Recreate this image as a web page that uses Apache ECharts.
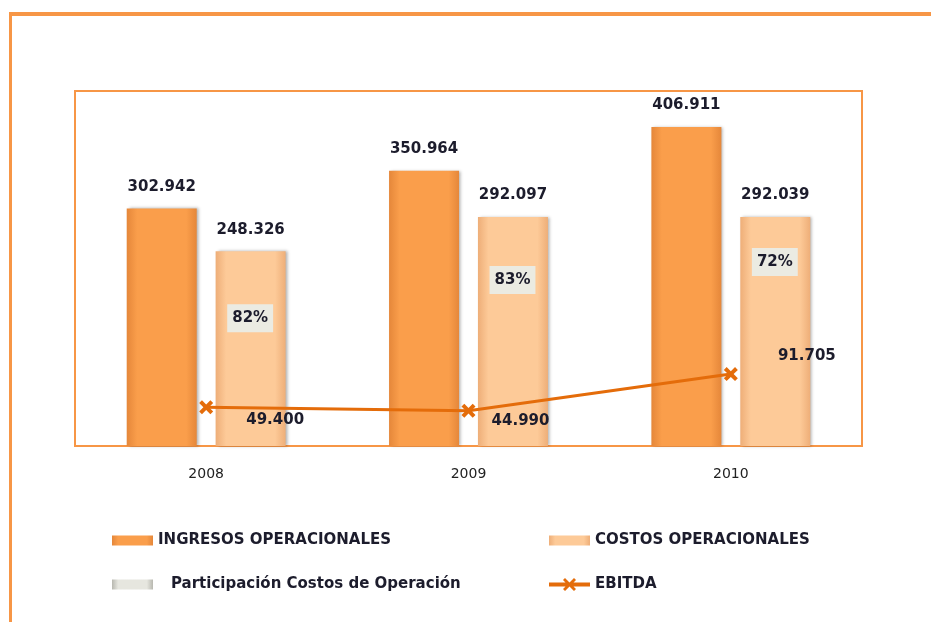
<!DOCTYPE html>
<html>
<head>
<meta charset="utf-8">
<script src="https://cdn.jsdelivr.net/npm/echarts@6/dist/echarts.min.js"></script>
<style>
  html, body { margin: 0; padding: 0; background: #fff; }
  #chart { width: 931px; height: 622px; }
</style>
</head>
<body>
<div id="chart"></div>
<script>
const years = ['2008', '2009', '2010']
const ingresos = [302942, 350964, 406911]
const costos = [248326, 292097, 292039]
const participacion = [82, 83, 72]
const ebitda = [49400, 44990, 91705]

const TEXT = '#1c1c2c'
const FONT = 'DejaVu Sans'

// 302942 -> "302.942"
const fmt = v => String(v).replace(/\B(?=(\d{3})+(?!\d))/g, '.')

const grad = (edge, mid) => ({
    type: 'linear', x: 0, y: 0, x2: 1, y2: 0,
    colorStops: [
        { offset: 0, color: edge },
        { offset: 0.15, color: mid },
        { offset: 0.85, color: mid },
        { offset: 1, color: edge }
    ]
})

const xMark = 'path://M2,0 L5,3 L8,0 L10,2 L7,5 L10,8 L8,10 L5,7 L2,10 L0,8 L3,5 L0,2 Z'
// line + cross, for the EBITDA legend entry (41 x 13 box)
const lineMark = 'path://M0,4.5 L41,4.5 L41,8.5 L0,8.5 Z M14,2 L16,0 L20.5,4.5 L25,0 L27,2 L22.5,6.5 L27,11 L25,13 L20.5,8.5 L16,13 L14,11 L18.5,6.5 Z'

// where the percentage boxes and EBITDA labels sit, per year
const pctOffsets = [[44, 67], [44, 63], [44, 45]]
const ebitdaOffsets = [[69, 13], [52, 10], [76, -18]]

const legendText = { color: TEXT, fontFamily: FONT, fontSize: 15, fontWeight: 'bold' }

const myChart = echarts.init(document.getElementById('chart'))

const option = {
    animation: false,
    graphic: [
        { type: 'rect', shape: { x: 9, y: 12, width: 922, height: 4 }, style: { fill: '#f79646' } },
        { type: 'rect', shape: { x: 9, y: 12, width: 3, height: 610 }, style: { fill: '#f79646' } }
    ],
    grid: {
        left: 75, right: 69, top: 91, bottom: 176,
        show: true,
        borderColor: '#f79646',
        borderWidth: 2,
        backgroundColor: '#fff'
    },
    xAxis: {
        type: 'category',
        data: years,
        axisTick: { show: false },
        axisLine: { lineStyle: { color: '#f79646', width: 2 } },
        axisLabel: { color: '#222', fontFamily: FONT, fontSize: 14, margin: 21 }
    },
    yAxis: {
        type: 'value',
        min: 0,
        max: 452800,
        show: false,
        splitLine: { show: false }
    },
    legend: [
        {
            left: 112, top: 533, orient: 'vertical', padding: 0,
            itemWidth: 41, itemHeight: 10, itemGap: 29,
            textStyle: legendText,
            data: [
                { name: 'INGRESOS OPERACIONALES', icon: 'rect' },
                {
                    name: 'Participación Costos de Operación', icon: 'rect',
                    itemStyle: { color: grad('#b8b8b0', '#e6e6df') },
                    textStyle: { padding: [0, 0, 0, 13] }
                }
            ]
        },
        {
            left: 549, top: 533, padding: 0,
            itemWidth: 41, itemHeight: 10,
            textStyle: legendText,
            data: [{ name: 'COSTOS OPERACIONALES', icon: 'rect' }]
        },
        {
            left: 549, top: 577, padding: 0,
            itemWidth: 41, itemHeight: 13,
            textStyle: legendText,
            data: [{ name: 'EBITDA', icon: lineMark }]
        }
    ],
    series: [
        {
            name: 'INGRESOS OPERACIONALES',
            type: 'bar',
            data: ingresos,
            barWidth: 70,
            barGap: '27%',
            itemStyle: {
                color: grad('#e5873a', '#fa9e4b'),
                shadowColor: 'rgba(0,0,0,0.3)', shadowBlur: 3, shadowOffsetX: 2
            },
            label: {
                show: true, position: 'top', distance: 14,
                formatter: p => fmt(p.value),
                color: TEXT, fontFamily: FONT, fontSize: 15, fontWeight: 'bold'
            }
        },
        {
            name: 'COSTOS OPERACIONALES',
            type: 'bar',
            data: costos,
            barWidth: 70,
            itemStyle: {
                color: grad('#eeae78', '#fdca98'),
                shadowColor: 'rgba(0,0,0,0.3)', shadowBlur: 3, shadowOffsetX: 2
            },
            label: {
                show: true, position: 'top', distance: 14,
                formatter: p => fmt(p.value),
                color: TEXT, fontFamily: FONT, fontSize: 15, fontWeight: 'bold'
            }
        },
        {
            name: 'Participación Costos de Operación',
            type: 'scatter',
            symbolSize: 1,
            itemStyle: { color: 'rgba(0,0,0,0)', opacity: 1 },
            data: costos.map((v, i) => ({
                value: v,
                label: {
                    show: true,
                    offset: pctOffsets[i],
                    formatter: participacion[i] + '%'
                }
            })),
            label: {
                position: 'inside',
                color: TEXT, fontFamily: FONT, fontSize: 15, fontWeight: 'bold',
                backgroundColor: '#ebebe2',
                padding: [7, 5, 6, 5]
            },
            z: 5
        },
        {
            name: 'EBITDA',
            type: 'line',
            data: ebitda.map((v, i) => ({
                value: v,
                label: { offset: ebitdaOffsets[i] }
            })),
            symbol: xMark,
            symbolSize: 14,
            lineStyle: { color: '#e46c0a', width: 3 },
            itemStyle: { color: '#e46c0a' },
            label: {
                show: true, position: 'inside',
                formatter: p => fmt(p.value),
                color: TEXT, fontFamily: FONT, fontSize: 15, fontWeight: 'bold'
            },
            z: 6
        }
    ]
}

myChart.setOption(option)
</script>
</body>
</html>
